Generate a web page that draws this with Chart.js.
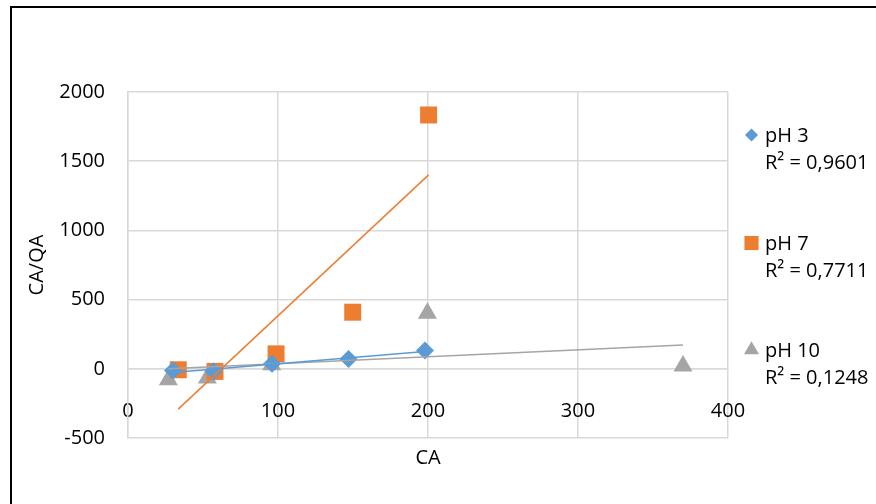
<!DOCTYPE html>
<html>
<head>
<meta charset="utf-8">
<script src="https://cdn.jsdelivr.net/npm/chart.js@4.4.1/dist/chart.umd.min.js"></script>
<style>
  html, body { margin: 0; padding: 0; background: #ffffff; }
  canvas { display: block; }
</style>
</head>
<body>
<canvas id="chart" width="876" height="504"></canvas>
<script>
// Series names and the R² of each linear trendline
const seriesNames = ['pH 3', 'pH 7', 'pH 10'];
const r2Labels = ['R² = 0,9601', 'R² = 0,7711', 'R² = 0,1248'];

// CA (x) and CA/QA (y) for each pH
const ph3CA = [30, 57, 96, 147, 198];
const ph3Ratio = [-12, -18, 36, 70, 132];
const ph7CA = [33.5, 58, 98.7, 149.8, 200.4];
const ph7Ratio = [-7, -19, 108, 409, 1834];
const ph10CA = [26.9, 52.9, 95.8, 199.6, 370];
const ph10Ratio = [-79, -67, 29, 402, 20];

// Axis ranges
const xRange = [0, 400];
const xStep = 100;
const yRange = [-500, 2000];
const yStep = 500;

const colors = ['#5b9bd5', '#ed7d31', '#a5a5a5'];
const markers = ['rectRot', 'rect', 'triangle'];
const markerRadius = [9, 12, 11];
const FONT = '"Open Sans", "Liberation Sans", sans-serif';

const xs = [ph3CA, ph7CA, ph10CA];
const ys = [ph3Ratio, ph7Ratio, ph10Ratio];

// least-squares line through a series, drawn from its smallest to largest x
function trendline(x, y) {
  const n = x.length;
  const mx = x.reduce((a, b) => a + b, 0) / n;
  const my = y.reduce((a, b) => a + b, 0) / n;
  let sxy = 0, sxx = 0;
  for (let i = 0; i < n; i++) {
    sxy += (x[i] - mx) * (y[i] - my);
    sxx += (x[i] - mx) * (x[i] - mx);
  }
  const slope = sxy / sxx;
  const lo = Math.min(...x), hi = Math.max(...x);
  return [
    { x: lo, y: my + slope * (lo - mx) },
    { x: hi, y: my + slope * (hi - mx) }
  ];
}

const datasets = [];
seriesNames.forEach((name, i) => {
  datasets.push({
    type: 'line',
    label: name + ' trend',
    data: trendline(xs[i], ys[i]),
    borderColor: colors[i],
    borderWidth: 1.5,
    pointRadius: 0,
    fill: false,
    xAxisID: 'x',
    yAxisID: 'y',
    order: 0
  });
});
seriesNames.forEach((name, i) => {
  datasets.push({
    type: 'scatter',
    label: name,
    data: xs[i].map((v, k) => ({ x: v, y: ys[i][k] })),
    backgroundColor: colors[i],
    borderColor: colors[i],
    borderWidth: 0,
    pointStyle: markers[i],
    pointRadius: markerRadius[i],
    xAxisID: 'x',
    yAxisID: 'y',
    order: 1
  });
});

// plain numbers, no thousands separator
const plainNumber = (value) => String(value);

// white page with the frame line along the top and left
const framePlugin = {
  id: 'frame',
  beforeDraw(chart) {
    const ctx = chart.ctx;
    ctx.save();
    ctx.fillStyle = '#ffffff';
    ctx.fillRect(0, 0, chart.width, chart.height);
    ctx.strokeStyle = '#000000';
    ctx.lineWidth = 2;
    ctx.strokeRect(11, 7, 1000, 700);
    ctx.restore();
  }
};

// legend on the right: marker, series name, and R² line below
const sideLegend = {
  id: 'sideLegend',
  afterDraw(chart) {
    const ctx = chart.ctx;
    const legendMarkerRadius = [6.5, 10, 8.7];
    const rowTop = [135, 243, 350];
    ctx.save();
    ctx.font = '20px ' + FONT;
    ctx.textAlign = 'left';
    ctx.textBaseline = 'alphabetic';
    seriesNames.forEach((name, i) => {
      const cy = rowTop[i];
      ctx.fillStyle = colors[i];
      Chart.helpers.drawPoint(ctx, {
        pointStyle: markers[i],
        radius: legendMarkerRadius[i],
        rotation: 0,
        borderWidth: 0
      }, 751.5, cy);
      ctx.fillStyle = '#000000';
      ctx.fillText(name, 765, cy + 7);
      ctx.fillText(r2Labels[i], 765, cy + 34);
    });
    ctx.restore();
  }
};

new Chart(document.getElementById('chart'), {
  data: { datasets },
  options: {
    responsive: false,
    animation: false,
    events: [],
    layout: { padding: { top: 92, right: 148, bottom: 0, left: 0 } },
    plugins: {
      legend: { display: false },
      tooltip: { enabled: false },
      title: { display: false }
    },
    scales: {
      x: {
        type: 'linear',
        position: { y: 0 },
        min: xRange[0],
        max: xRange[1],
        ticks: {
          stepSize: xStep,
          padding: 30,
          color: '#000000',
          font: { family: FONT, size: 20 },
          maxRotation: 0,
          autoSkip: false,
          callback: plainNumber
        },
        grid: { color: '#d9d9d9', lineWidth: 1.5, drawTicks: false },
        border: { color: '#d9d9d9', width: 1.5 }
      },
      xTitle: {
        type: 'linear',
        axis: 'x',
        position: 'bottom',
        min: xRange[0],
        max: xRange[1],
        ticks: { display: false },
        grid: { display: false, drawTicks: false },
        border: { display: false },
        title: {
          display: true,
          text: 'CA',
          color: '#000000',
          font: { family: FONT, size: 20 },
          padding: { top: 0, bottom: 34 }
        },
        afterFit(scale) { scale.height = 66; }
      },
      y: {
        type: 'linear',
        position: 'left',
        min: yRange[0],
        max: yRange[1],
        ticks: {
          stepSize: yStep,
          padding: 23,
          color: '#000000',
          font: { family: FONT, size: 20 },
          callback: plainNumber
        },
        grid: { color: '#d9d9d9', lineWidth: 1.5, drawTicks: false },
        border: { color: '#d9d9d9', width: 1.5 },
        title: {
          display: true,
          text: 'CA/QA',
          color: '#000000',
          font: { family: FONT, size: 20 },
          padding: { top: 25, bottom: 0 }
        },
        afterFit(scale) { scale.width = 128; }
      }
    }
  },
  plugins: [framePlugin, sideLegend]
});
</script>
</body>
</html>
